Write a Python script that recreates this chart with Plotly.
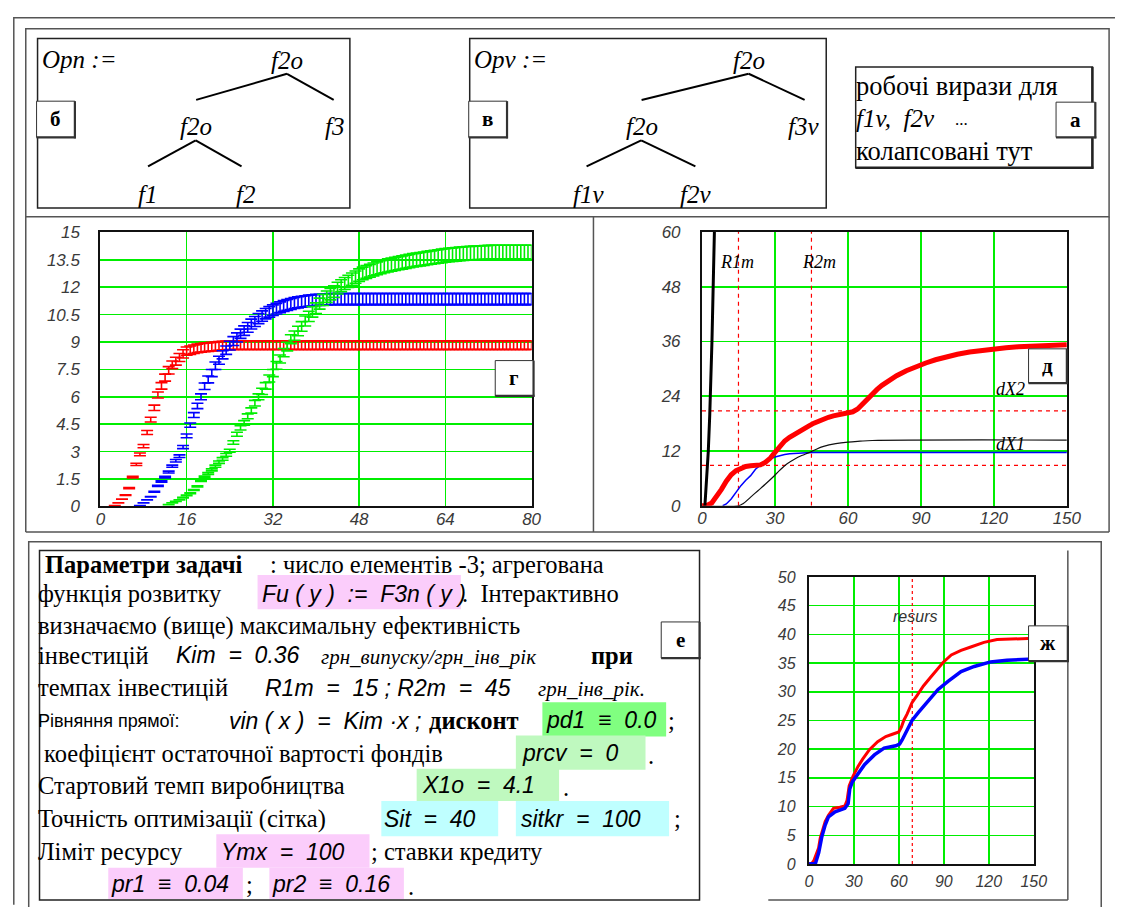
import plotly.graph_objects as go

# page body keeps an 8px margin, so the figure is placed at (8, 8)
OFF = 8
PAGE_W, PAGE_H = 1137, 915
FW, FH = PAGE_W - 2 * OFF, PAGE_H - 2 * OFF


def X(p):
    return (p - OFF) / FW


def Y(p):
    return 1 - (p - OFF) / FH


# ---------------- Chart "г" (error-bar traces) ----------------
g_step = 2 / 3
g_n = 121
g_x = [round(i * g_step, 3) for i in range(g_n)]

red_start = 4
red_rise = [0.05, 0.2, 0.4, 0.62, 1.0, 1.6, 2.3, 2.85, 3.3, 4.05, 4.75, 5.4, 6.1, 6.6,
            7.05, 7.45, 7.75, 7.95, 8.15, 8.35, 8.5, 8.55, 8.6, 8.65, 8.68, 8.7, 8.72,
            8.74, 8.76, 8.78, 8.8, 8.81, 8.82]
red_plateau = 8.83

blue_start = 11
blue_rise = [0.05, 0.2, 0.36, 0.53, 0.8, 1.12, 1.36, 1.6, 1.88, 2.2, 2.5, 2.75, 3.25, 3.86,
             4.45, 5.0, 5.5, 6.0, 6.58, 6.95, 7.3, 7.7, 8.0, 8.3, 8.55, 8.8, 9.05, 9.25,
             9.45, 9.62, 9.8, 9.98, 10.12, 10.28, 10.42, 10.55, 10.65, 10.74, 10.82, 10.9,
             10.97, 11.03, 11.08, 11.13, 11.17, 11.2, 11.23, 11.26, 11.28, 11.3, 11.31,
             11.32, 11.33, 11.34]
blue_plateau = 11.35

green_start = 19
green_rise = [0.1, 0.2, 0.28, 0.36, 0.48, 0.6, 0.72, 0.9, 1.1, 1.4,
              1.62, 1.8, 2.0, 2.2, 2.42, 2.6, 2.82, 3.05, 3.5, 3.95,
              4.3, 4.57, 4.93, 5.25, 5.65, 6.0, 6.3, 6.6, 7.0, 7.3,
              7.72, 8.07, 8.42, 8.75, 9.15, 9.35, 9.6, 9.85, 10.15, 10.4,
              10.65, 10.85, 11.1, 11.3, 11.48, 11.62, 11.76, 11.95, 12.08, 12.2,
              12.32, 12.44, 12.55, 12.66, 12.75, 12.83, 12.9, 12.97, 13.03, 13.09,
              13.14, 13.19, 13.23, 13.27, 13.31, 13.35, 13.39, 13.43, 13.47, 13.5,
              13.53, 13.56, 13.59, 13.62, 13.65, 13.68, 13.71, 13.74, 13.76, 13.78,
              13.8, 13.82, 13.84, 13.85, 13.86, 13.87, 13.88, 13.89, 13.9, 13.91]
green_plateau = 13.92

spread_frac = 0.027  # half-height of each error bar relative to value

g_xticks = [0, 16, 32, 48, 64, 80]
g_yticks = [0, 1.5, 3, 4.5, 6, 7.5, 9, 10.5, 12, 13.5, 15]


def build(start, rise, plateau):
    vals = [None] * start + rise
    vals += [plateau] * (g_n - len(vals))
    return vals


g_red = build(red_start, red_rise, red_plateau)
g_blue = build(blue_start, blue_rise, blue_plateau)
g_green = build(green_start, green_rise, green_plateau)

# ---------------- Chart "д" ----------------
d_xticks = [0, 30, 60, 90, 120, 150]
d_yticks = [0, 12, 24, 36, 48, 60]

d_steep_x = [1.2, 2.0, 2.6, 3.2, 3.7, 4.1, 4.6, 5.1]
d_steep_y = [0, 6, 12, 20, 28, 36, 48, 60]

d_red_x = [0, 2, 4, 6, 8, 10, 12, 14, 16, 18, 20, 22, 24, 26, 28, 30, 32, 34, 36, 38, 40,
           42, 44, 46, 48, 50, 52, 54, 56, 58, 60, 62, 64, 66, 68, 70, 72, 74, 76, 78, 80,
           84, 88, 92, 96, 100, 105, 110, 115, 120, 125, 130, 135, 140, 145, 150]
d_red_y = [0, 0.05, 0.6, 2.0, 3.6, 5.4, 6.8, 7.7, 8.3, 8.6, 8.75, 8.85, 8.95, 9.5, 10.4,
           11.7, 13.1, 14.2, 15.0, 15.7, 16.3, 16.9, 17.5, 18.1, 18.6, 19.1, 19.4, 19.7,
           19.95, 20.15, 20.35, 20.6, 21.2, 22.3, 23.5, 24.6, 25.5, 26.4, 27.2, 27.9, 28.5,
           29.6, 30.5, 31.3, 32.0, 32.6, 33.2, 33.7, 34.1, 34.4, 34.65, 34.85, 35.0, 35.1,
           35.2, 35.3]

d_blue_x = [8.5, 10, 12, 14, 16, 18, 20, 22, 24, 26, 28, 30, 32, 34, 36, 38, 40, 43, 46, 50, 150]
d_blue_y = [0, 0.4, 1.5, 3.0, 4.4, 5.6, 6.6, 8.0, 8.9, 9.5, 10.2, 10.7, 11.0, 11.25, 11.4,
            11.5, 11.55, 11.62, 11.68, 11.7, 11.7]

d_blk_x = [0, 15, 17, 20, 23, 26, 29, 32, 35, 38, 41, 44, 47, 50, 55, 60, 65, 70, 150]
d_blk_y = [0, 0, 0.5, 1.9, 3.3, 4.7, 6.2, 7.8, 9.2, 10.2, 11.0, 11.65, 12.4, 13.0, 13.6,
           13.95, 14.15, 14.3, 14.4]

R1m, R2m = 15, 45
d_hlev = [8.85, 20.8]

# ---------------- Chart "ж" ----------------
zh_xticks = [0, 30, 60, 90, 120, 150]
zh_yticks = [0, 5, 10, 15, 20, 25, 30, 35, 40, 45, 50]

zh_red_x = [0, 2, 3.3, 5, 6.5, 7.6, 8.7, 10.9, 13.1, 16.4, 20.7, 24, 25.5, 26.9, 29.5, 32.8,
            36, 40.4, 45.9, 51.3, 55.7, 60, 61.8, 63.3, 65.5, 68.8, 72, 76.4, 80.8, 85.2,
            89.5, 95, 101.5, 108, 116.8, 125.5, 136.5, 150]
zh_red_y = [0, 0.1, 0.57, 1.7, 2.8, 4.5, 5.4, 7.4, 8.5, 9.7, 9.9, 10.1, 11.1, 13.6, 15.3,
            17.0, 18.3, 19.9, 21.3, 22.2, 22.6, 23.0, 23.9, 25.0, 26.1, 28.1, 29.3, 31.0,
            32.4, 33.8, 35.1, 36.4, 37.2, 37.8, 38.6, 39.1, 39.2, 39.3]
zh_blue_x = [0, 3, 4.4, 6.6, 8.7, 10.9, 13.1, 17.5, 24, 26.2, 27.3, 29, 31.7, 37.1, 43.7,
             50.2, 57.9, 60.5, 62.2, 64.4, 66.6, 68.8, 73.1, 79.7, 86.2, 92.8, 101.5, 110.3,
             121.2, 132.1, 150]
zh_blue_y = [0, 0, 0.1, 2.0, 4.8, 6.8, 8.2, 9.1, 9.7, 10.5, 13.1, 14.3, 15.3, 17.3, 19.0,
             20.2, 20.6, 20.9, 21.6, 22.7, 24.1, 25.0, 26.4, 28.4, 30.4, 31.8, 33.5, 34.4,
             35.2, 35.5, 35.7]
resurs = 69

SERIF = 'Liberation Serif, Times New Roman, DejaVu Serif, serif'
SANS = 'Liberation Sans, Arial, DejaVu Sans, sans-serif'

# ---------------- figure ----------------
fig = go.Figure()

for vals, col in [(g_red, '#ff0000'), (g_blue, '#0000ff'), (g_green, '#00ee00')]:
    err = [0 if v is None else v * spread_frac for v in vals]
    fig.add_trace(go.Scatter(
        x=g_x, y=vals, mode='markers', marker=dict(size=2, opacity=0),
        error_y=dict(type='data', array=err, symmetric=True, color=col,
                     thickness=1.6, width=6),
        xaxis='x', yaxis='y', showlegend=False, hoverinfo='skip'))

dash_style = dict(color='#ff0000', width=1.2, dash='4px,4px')
for r in (R1m, R2m):
    fig.add_trace(go.Scatter(x=[r, r], y=[0, 60], mode='lines', line=dash_style,
                             xaxis='x2', yaxis='y2', showlegend=False, hoverinfo='skip'))
for lv in d_hlev:
    fig.add_trace(go.Scatter(x=[0, 150], y=[lv, lv], mode='lines', line=dash_style,
                             xaxis='x2', yaxis='y2', showlegend=False, hoverinfo='skip'))
fig.add_trace(go.Scatter(x=d_blue_x, y=d_blue_y, mode='lines',
                         line=dict(color='#0000ff', width=1.5),
                         xaxis='x2', yaxis='y2', showlegend=False, hoverinfo='skip'))
fig.add_trace(go.Scatter(x=d_blk_x, y=d_blk_y, mode='lines', line_shape='spline',
                         line=dict(color='#111111', width=1.2),
                         xaxis='x2', yaxis='y2', showlegend=False, hoverinfo='skip'))
fig.add_trace(go.Scatter(x=d_red_x, y=d_red_y, mode='lines',
                         line=dict(color='#ff0000', width=5),
                         xaxis='x2', yaxis='y2', showlegend=False, hoverinfo='skip'))
fig.add_trace(go.Scatter(x=d_steep_x, y=d_steep_y, mode='lines',
                         line=dict(color='#000000', width=3),
                         xaxis='x2', yaxis='y2', showlegend=False, hoverinfo='skip'))

fig.add_trace(go.Scatter(x=[resurs, resurs], y=[0, 50], mode='lines',
                         line=dict(color='#ff0000', width=1.2, dash='3px,3px'),
                         xaxis='x3', yaxis='y3', showlegend=False, hoverinfo='skip'))
fig.add_trace(go.Scatter(x=zh_red_x, y=zh_red_y, mode='lines',
                         line=dict(color='#ff0000', width=3),
                         xaxis='x3', yaxis='y3', showlegend=False, hoverinfo='skip'))
fig.add_trace(go.Scatter(x=zh_blue_x, y=zh_blue_y, mode='lines',
                         line=dict(color='#0000ff', width=3.5),
                         xaxis='x3', yaxis='y3', showlegend=False, hoverinfo='skip'))


def fmt(v):
    return '<i>' + ('%g' % v) + '</i>'


def axis(domain, rng, ticks, anchor, standoff, size=17):
    return dict(domain=domain, range=rng, tickmode='array', tickvals=ticks,
                ticktext=[fmt(t) for t in ticks], anchor=anchor,
                showgrid=True, gridcolor='#00ee00', gridwidth=1.6, zeroline=False,
                showline=True, linecolor='#111111', linewidth=2, mirror=True, ticks='',
                tickfont=dict(family=SANS, size=size, color='#3a3a3a'),
                ticklabelstandoff=standoff, fixedrange=True)


layout = dict(
    width=FW, height=FH, autosize=False, margin=dict(l=0, r=0, t=0, b=0, pad=0),
    paper_bgcolor='white', plot_bgcolor='white', showlegend=False,
    xaxis=axis([X(97), X(536)], [0, 80], g_xticks, 'y', -4, 17),
    yaxis=axis([Y(508), Y(228)], [0, 15], g_yticks, 'x', 15, 17),
    xaxis2=axis([X(709.5), X(1081)], [0, 150], d_xticks, 'y2', -4, 17),
    yaxis2=axis([Y(507.3), Y(227.7)], [0, 60], d_yticks, 'x2', 16, 17),
    xaxis3=axis([X(818.3), X(1047.3)], [0, 150], zh_xticks, 'y3', 2, 16),
    yaxis3=axis([Y(873.3), Y(580)], [0, 50], zh_yticks, 'x3', 8, 16),
)
fig.update_layout(**layout)

shapes = []
anns = []
FR = '#555555'


def line(x0, y0, x1, y1, color=FR, width=1.5):
    shapes.append(dict(type='line', xref='paper', yref='paper', x0=X(x0), y0=Y(y0),
                       x1=X(x1), y1=Y(y1), line=dict(color=color, width=width)))


def rect(x0, y0, x1, y1, color=FR, width=1.5, fill=None, lw=True):
    d = dict(type='rect', xref='paper', yref='paper', x0=X(x0), y0=Y(y0), x1=X(x1),
             y1=Y(y1), line=dict(color=color, width=width if lw else 0))
    if fill:
        d['fillcolor'] = fill
        d['layer'] = 'below'
    if not lw:
        d['line'] = dict(width=0)
    shapes.append(d)


def text(x, y, s, size=24, family=SERIF, anchor='left', color='#000000',
         italic=False, bold=False):
    if bold:
        s = '<b>' + s + '</b>'
    if italic:
        s = '<i>' + s + '</i>'
    anns.append(dict(xref='paper', yref='paper', x=X(x), y=Y(y), text=s, showarrow=False,
                     xanchor=anchor, yanchor='middle',
                     font=dict(family=family, size=size, color=color)))


def label_box(x0, y0, x1, y1, letter):
    shapes.append(dict(type='rect', xref='paper', yref='paper', x0=X(x0), y0=Y(y0),
                       x1=X(x1), y1=Y(y1), fillcolor='white',
                       line=dict(color='#333333', width=1)))
    line(x1, y0, x1, y1 + 1, '#333333', 2.2)
    line(x0, y1, x1 + 1, y1, '#333333', 2.2)
    text((x0 + x1) / 2, (y0 + y1) / 2, letter, size=21, anchor='center', bold=True)


# frames
shapes.append(dict(type='path', xref='paper', yref='paper',
                   path='M %f,%f L %f,%f L %f,%f' % (X(8.8), Y(915), X(8.8), Y(8.8), X(1130), Y(8.8)),
                   line=dict(color=FR, width=1.5)))
rect(21, 20, 1124, 212)
line(21, 212, 21, 534)
line(21, 534, 1124, 534)
line(599, 212, 599, 534)
line(1124, 212, 1124, 534)
rect(24, 544, 1116, 930)
rect(35, 553, 707, 910, '#222222', 1.5)
line(777, 910, 1082, 910)
line(1082, 553, 1082, 910)

# ---- top: expression trees ----
TS = 25
rect(33, 30, 351, 203, '#222222', 1.5)
text(35, 51, 'Opn :=', TS, italic=True)
text(287, 52, 'f2o', TS, anchor='center', italic=True)
line(194.5, 92.7, 287, 66, '#000000', 2)
line(287, 66, 334.5, 92.7, '#000000', 2)
text(194, 120, 'f2o', TS, anchor='center', italic=True)
text(335, 120, 'f3', TS, anchor='center', italic=True)
line(145.5, 160.7, 194, 134, '#000000', 2)
line(194, 134, 240.7, 160.7, '#000000', 2)
text(145, 189, 'f1', TS, anchor='center', italic=True)
text(245, 189, 'f2', TS, anchor='center', italic=True)
label_box(32, 94, 71, 131, 'б')

rect(473, 30, 836, 203, '#222222', 1.5)
text(475, 51, 'Opv :=', TS, italic=True)
text(757, 52, 'f2o', TS, anchor='center', italic=True)
line(648, 92.7, 757, 66, '#000000', 2)
line(757, 66, 814, 92.7, '#000000', 2)
text(648, 120, 'f2o', TS, anchor='center', italic=True)
text(813, 120, 'f3v', TS, anchor='center', italic=True)
line(592, 160.7, 647.6, 134, '#000000', 2)
line(647.6, 134, 702.8, 160.7, '#000000', 2)
text(594, 189, 'f1v', TS, anchor='center', italic=True)
text(703, 189, 'f2v', TS, anchor='center', italic=True)
label_box(472, 94, 511, 131, 'в')

rect(866, 59, 1107, 162, '#222222', 1.5)
line(1107, 59, 1107, 163, '#222222', 2.5)
line(866, 162, 1108, 162, '#222222', 2.5)
text(864, 78, 'робочі вирази для', 26.5)
text(864, 112, 'f1v,  f2v', 25, italic=True)
text(965, 113, '...', 17)
text(864, 145, 'колапсовані тут', 26.5)
label_box(1070, 95, 1110, 131, 'а')

# ---- chart labels ----
label_box(499, 359, 538, 395, 'г')
label_box(1042, 347, 1081, 382, 'д')
text(745, 258, 'R1m', 18, anchor='center', italic=True)
text(829, 258, 'R2m', 18, anchor='center', italic=True)
text(1024, 388, 'dX2', 18, anchor='center', italic=True)
text(1024, 444, 'dX1', 18, anchor='center', italic=True)
label_box(1042, 630, 1082, 666, 'ж')
text(926, 620, 'resurs', 16, family=SANS, anchor='center', italic=True,
     color='#333333')

# ---- text block е ----
PINK = '#fbcdfb'
GREEN = '#80ff80'
LGREEN = '#bff9bf'
CYAN = '#bfffff'
rect(257, 578, 464, 613, fill=PINK, lw=False)
rect(547, 708, 673, 743, fill=GREEN, lw=False)
rect(520, 742, 652, 777, fill=LGREEN, lw=False)
rect(419, 776, 564, 809, fill=LGREEN, lw=False)
rect(383, 809, 502, 845, fill=CYAN, lw=False)
rect(520, 809, 676, 845, fill=CYAN, lw=False)
rect(215, 843, 371, 877, fill=PINK, lw=False)
rect(105, 877, 242, 909, fill=PINK, lw=False)
rect(269, 877, 406, 909, fill=PINK, lw=False)

S = 24.5
MS = 23
MF = SANS
nb = '\u00a0'
text(39, 567, 'Параметри задачі', S, bold=True)
text(268, 567, ': число елементів -3; агрегована', S)
text(31, 597, 'функція розвитку', S)
text(259, 597, 'Fu' + nb + '(' + nb + 'y' + nb + ')' + nb * 2 + ':=' + nb * 2 + 'F3n' + nb + '(' + nb + 'y' + nb + ')',
     MS, family=MF, italic=True)
text(463, 597, '.' + nb + ' Інтерактивно', S)
text(31, 630, 'визначаємо (вище) максимальну ефективність', S)
text(31, 660, 'інвестицій', S)
text(172, 660, 'Kim' + nb * 2 + '=' + nb * 2 + '0.36', MS, family=MF, italic=True)
text(320, 662, 'грн_випуску/грн_інв_рік', 21, italic=True)
text(594, 660, 'при', S, bold=True)
text(31, 693, 'темпах інвестицій', S)
text(263, 693, 'R1m' + nb * 2 + '=' + nb * 2 + '15' + nb + ';' + nb + 'R2m' + nb * 2 + '=' + nb * 2 + '45',
     MS, family=MF, italic=True)
text(540, 694, 'грн_інв_рік.', 21, italic=True)
text(31, 727, 'Рівняння прямої:', 18, family=MF)
text(226, 727, 'vin' + nb + '(' + nb + 'x' + nb + ')' + nb * 2 + '=' + nb * 2 + 'Kim' + nb + '·x' + nb + ';',
     MS, family=MF, italic=True)
text(430, 727, 'дисконт', S, bold=True)
text(549, 726, 'pd1' + nb * 2 + '≡' + nb * 2 + '0.0', MS, family=MF, italic=True)
text(673, 727, ';', S)
text(38, 760, 'коефіцієнт остаточної вартості фондів', S)
text(524, 760, 'prcv' + nb * 2 + '=' + nb * 2 + '0', MS, family=MF, italic=True)
text(653, 762, '.', S)
text(31, 793, 'Стартовий темп виробництва', S)
text(422, 793, 'X1o' + nb * 2 + '=' + nb * 2 + '4.1', MS, family=MF, italic=True)
text(566, 795, '.', S)
text(31, 827, 'Точність оптимізації (сітка)', S)
text(384, 827, 'Sit' + nb * 2 + '=' + nb * 2 + '40', MS, family=MF, italic=True)
text(523, 827, 'sitkr' + nb * 2 + '=' + nb * 2 + '100', MS, family=MF, italic=True)
text(679, 827, ';', S)
text(31, 861, 'Ліміт ресурсу', S)
text(218, 861, 'Ymx' + nb * 2 + '=' + nb * 2 + '100', MS, family=MF, italic=True)
text(370, 861, '; ставки кредиту', S)
text(106, 894, 'pr1' + nb * 2 + '≡' + nb * 2 + '0.04', MS, family=MF, italic=True)
text(243, 894, ';', S)
text(270, 894, 'pr2' + nb * 2 + '≡' + nb * 2 + '0.16', MS, family=MF, italic=True)
text(408, 896, '.', S)
label_box(668, 626, 707, 663, 'е')

fig.update_layout(shapes=shapes, annotations=anns)

fig.write_html("out.html", include_plotlyjs=True, full_html=True,
               config={'displayModeBar': False, 'staticPlot': True, 'responsive': False})
